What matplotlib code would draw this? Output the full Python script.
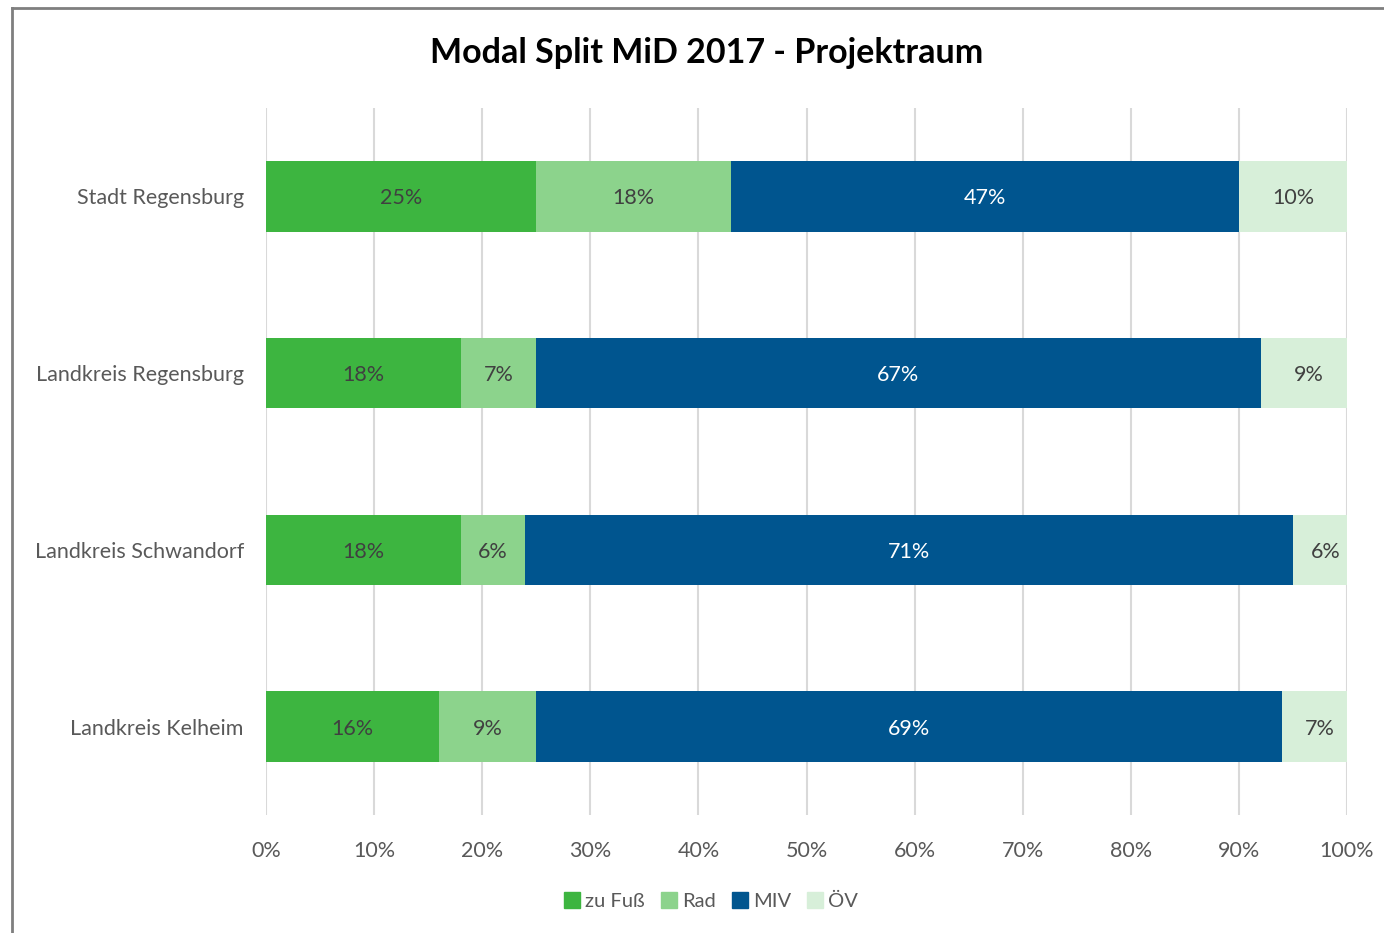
import matplotlib.pyplot as plt
from matplotlib.lines import Line2D
import numpy as np

plt.rcParams['font.family'] = ['Lato', 'DejaVu Sans']

regions = ["Stadt Regensburg", "Landkreis Regensburg", "Landkreis Schwandorf", "Landkreis Kelheim"]
modes = ["zu Fuß", "Rad", "MIV", "ÖV"]
zu_fuss = [25, 18, 18, 16]
rad = [18, 7, 6, 9]
miv = [47, 67, 71, 69]
oev = [10, 9, 6, 7]

colors = ["#3db540", "#8cd38c", "#00558f", "#d7efd9"]
label_colors = ["#404040", "#404040", "white", "#404040"]

fig = plt.figure(figsize=(13.84, 9.33), dpi=100)
ax = fig.add_axes([266/1384, 1-815/933, 1081/1384, 707/933])

series = [zu_fuss, rad, miv, oev]
y = np.arange(len(regions))
left = np.zeros(len(regions))
for vals, col, lc, name in zip(series, colors, label_colors, modes):
    vals = np.array(vals, dtype=float)
    ax.barh(y, vals, left=left, height=0.4, color=col, label=name, zorder=3)
    for yi, l, v in zip(y, left, vals):
        ax.text(l + v / 2, yi + 0.012, f"{v:.0f}%", ha="center", va="center",
                fontsize=15.5, color=lc, zorder=4, clip_on=True)
    left += vals

ax.set_xlim(0, 100)
ax.set_ylim(3.5, -0.5)
ax.set_xticks(np.arange(0, 101, 10))
ax.set_xticklabels([f"{t}%" for t in range(0, 101, 10)], fontsize=15.5, color="#595959")
ax.set_yticks(y)
ax.set_yticklabels(regions, fontsize=15.5, color="#595959")
ax.tick_params(length=0)
ax.tick_params(axis="x", pad=19)
ax.tick_params(axis="y", pad=16)
ax.grid(axis="x", color="#d9d9d9", linewidth=1.5, zorder=0)
for s in ax.spines.values():
    s.set_visible(False)

fig.text(707/1384, 1-53/933, "Modal Split MiD 2017 - Projektraum", ha="center", va="center",
         fontsize=24.5, fontweight="bold", color="black")

handles = [plt.Rectangle((0, 0), 1, 1, color=c) for c in colors]
fig.legend(handles, modes, loc="center", bbox_to_anchor=(711/1384, 1-901/933), ncol=4,
           frameon=False, fontsize=14.5, handlelength=0.8, handleheight=0.8,
           handletextpad=0.25, columnspacing=0.8, labelcolor="#595959")

# chart border (left and top edges visible)
fig.add_artist(Line2D([12/1384, 12/1384], [0, 1-8/933], transform=fig.transFigure, color="#7f7f7f", linewidth=2))
fig.add_artist(Line2D([12/1384, 1], [1-8/933, 1-8/933], transform=fig.transFigure, color="#7f7f7f", linewidth=2))

fig.savefig("out.png", dpi=100)
